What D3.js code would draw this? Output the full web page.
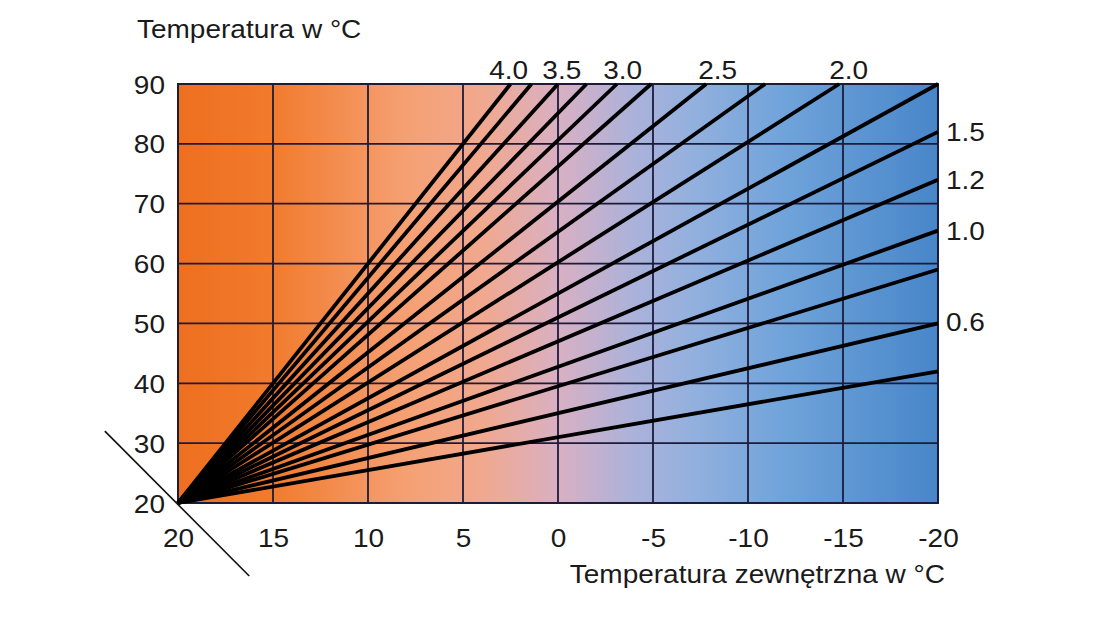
<!DOCTYPE html>
<html><head><meta charset="utf-8">
<script src="https://cdn.jsdelivr.net/npm/d3@7"></script>
<style>body{margin:0;background:#fff}</style>
</head><body><svg id="c" width="1100" height="618"></svg>
<script>
// ---- data ----
const outdoorTicks = [20, 15, 10, 5, 0, -5, -10, -15, -20];
const flowTicks = [20, 30, 40, 50, 60, 70, 80, 90];
const curveStart = [20, 20];
// end point of every heating curve: outdoor temp and flow temp
const curveEndOutdoor = [2.5, 1.4, 0, -1.5, -3.1, -4.9, -7.8, -10.9, -14.8, -20, -20, -20, -20, -20, -20, -20];
const curveEndFlow    = [90, 90, 90, 90, 90, 90, 90, 90, 90, 90, 82, 74, 65.5, 59, 50, 42];
const topLabels = ["4.0", "3.5", "3.0", "2.5", "2.0"];
const topLabelOutdoor = [2.6, -0.2, -3.4, -8.4, -15.3];
const rightLabels = ["1.5", "1.2", "1.0", "0.6"];
const rightLabelFlow = [82, 74, 65.5, 50.3];
const yTitle = "Temperatura w °C";
const xTitle = "Temperatura zewnętrzna w °C";
const cornerLine = [[23.85, 32.0], [16.25, 7.8]];

// ---- layout ----
const svg = d3.select("#c");
const L = 178, R = 938, T = 84, B = 503;
const x = d3.scaleLinear().domain([20, -20]).range([L, R]);
const y = d3.scaleLinear().domain([20, 90]).range([B, T]);
const FONT = "'Liberation Sans', Arial, sans-serif";
const FS = 25, SX = 1.12;

// gradient background
const defs = svg.append("defs");
const grad = defs.append("linearGradient").attr("id", "bg")
  .attr("gradientUnits", "userSpaceOnUse")
  .attr("x1", x(20)).attr("x2", x(-20)).attr("y1", 0).attr("y2", 0);
[[0, "#ee6f1f"], [0.12, "#f17a2c"], [0.3, "#f5a073"], [0.4, "#f1a88e"],
 [0.5, "#d9b0c3"], [0.6, "#abb2da"], [0.68, "#92b0de"], [0.8, "#6fa3da"], [1, "#4886c9"]]
  .forEach(([o, c]) => grad.append("stop").attr("offset", o).attr("stop-color", c));

svg.append("rect").attr("x", x(20)).attr("y", y(90))
  .attr("width", x(-20) - x(20)).attr("height", y(20) - y(90))
  .attr("fill", "url(#bg)");

// grid
const gridColor = "#1d1b3a";
svg.append("g").selectAll("line").data(outdoorTicks.slice(1, -1)).join("line")
  .attr("x1", d => x(d)).attr("x2", d => x(d)).attr("y1", y(20)).attr("y2", y(90))
  .attr("stroke", gridColor).attr("stroke-width", 1.8);
svg.append("g").selectAll("line").data(flowTicks.slice(1, -1)).join("line")
  .attr("y1", d => y(d)).attr("y2", d => y(d)).attr("x1", x(20)).attr("x2", x(-20))
  .attr("stroke", gridColor).attr("stroke-width", 1.8);
svg.append("rect").attr("x", x(20)).attr("y", y(90))
  .attr("width", x(-20) - x(20)).attr("height", y(20) - y(90))
  .attr("fill", "none").attr("stroke", gridColor).attr("stroke-width", 2);

// curves
const line = d3.line().x(d => x(d[0])).y(d => y(d[1]));
const curves = curveEndOutdoor.map((o, i) => [curveStart, [o, curveEndFlow[i]]]);
svg.append("g").selectAll("path").data(curves).join("path")
  .attr("d", line).attr("fill", "none").attr("stroke", "#000")
  .attr("stroke-width", 3.8);

// corner diagonal
svg.append("path").attr("d", line(cornerLine)).attr("stroke", "#111")
  .attr("stroke-width", 1.6).attr("fill", "none");

// axes
const yAxis = svg.append("g").attr("transform", `translate(${L},0)`)
  .call(d3.axisLeft(y).tickValues(flowTicks).tickSize(0).tickFormat(d3.format("d")));
yAxis.select(".domain").remove();
yAxis.selectAll("text").attr("x", 0).attr("dy", null).attr("y", 0)
  .attr("text-anchor", "end").attr("transform", `translate(-13,9) scale(${SX},1)`)
  .attr("font-family", FONT).attr("font-size", FS).attr("fill", "#1a1a1a");

const xAxis = svg.append("g").attr("transform", `translate(0,${B})`)
  .call(d3.axisBottom(x).tickValues(outdoorTicks).tickSize(0).tickFormat(d => String(d)));
xAxis.select(".domain").remove();
xAxis.selectAll("text").attr("y", 0).attr("dy", null)
  .attr("text-anchor", "middle").attr("transform", `translate(0,44) scale(${SX},1)`)
  .attr("font-family", FONT).attr("font-size", FS).attr("fill", "#1a1a1a");

// curve labels
function label(txt, px, py, anchor) {
  svg.append("text").text(txt).attr("text-anchor", anchor)
    .attr("transform", `translate(${px},${py}) scale(${SX},1)`)
    .attr("font-family", FONT).attr("font-size", FS).attr("fill", "#1a1a1a");
}
topLabels.forEach((t, i) => label(t, x(topLabelOutdoor[i]), T - 5, "middle"));
rightLabels.forEach((t, i) => label(t, R + 8, y(rightLabelFlow[i]) + 9, "start"));

// titles
label(yTitle, 137, 38, "start");
label(xTitle, 945, 583, "end");
</script></body></html>
